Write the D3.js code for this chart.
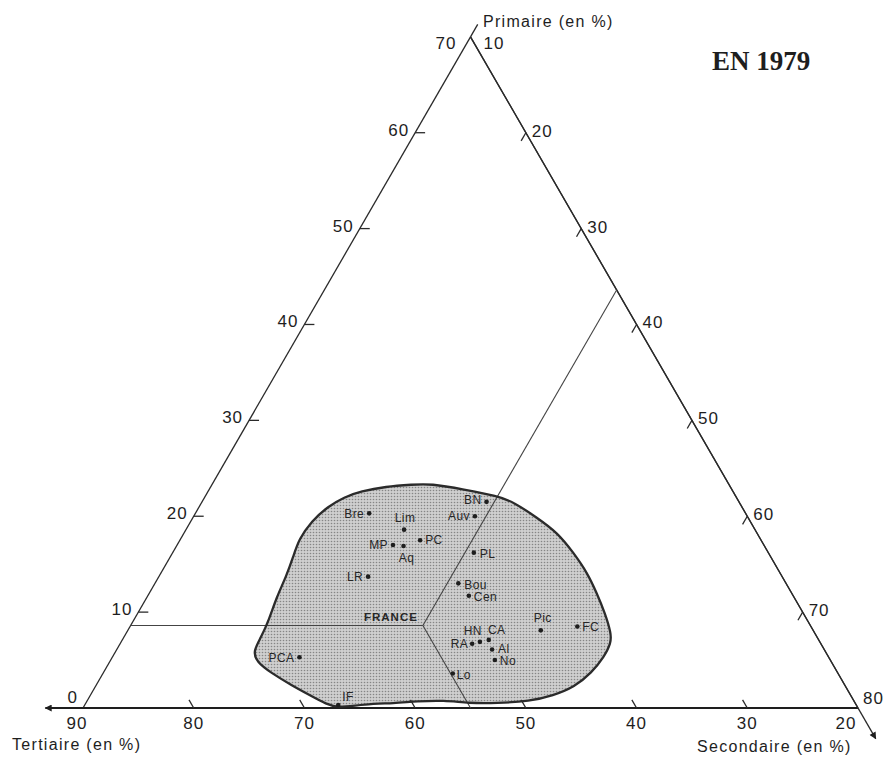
<!DOCTYPE html>
<html>
<head>
<meta charset="utf-8">
<script src="https://cdn.jsdelivr.net/npm/d3@7"></script>
<style>
  body { margin: 0; background: #fff; }
  text { font-family: "Liberation Sans", Arial, sans-serif; fill: #1e1e1e; }
</style>
</head>
<body>
<svg id="chart" width="886" height="757"></svg>
<script>
// Régions en 1979 : part du primaire et du secondaire (%), tertiaire = 100 - P - S
const regions    = ["Bre","Lim","MP","Aq","PC","LR","BN","Auv","PL","Bou","Cen","Pic","FC","HN","RA","CA","Al","No","Lo","PCA","IF"];
const primaire   = [20.3,18.6,17.0,16.9,17.5,13.7,21.5,20.0,16.2,13.0,11.7, 8.1, 8.5, 6.9, 6.7, 7.1, 6.1, 5.0, 3.6, 5.3, 0.3];
const secondaire = [25.7,29.7,29.5,30.5,31.7,28.9,35.7,35.4,37.2,37.4,39.0,47.3,50.4,42.4,41.8,43.1,43.9,44.7,41.6,26.9,32.9];

// moyenne France
const franceP = 8.6;
const franceS = 36.4;

// contour de la zone grisée (primaire, secondaire)
const outlineP = [23.4,22.8,22.1,21.5,19.9,18.3,16.2,14.1,12.0, 9.9, 7.8, 6.8, 5.3, 3.7, 2.2, 1.3, 0.7, 0.5, 0.5, 0.8, 0.7, 0.5, 0.4, 0.0, 0.4, 1.3, 2.4, 3.7, 4.8, 5.9, 7.4, 9.2,11.6,13.7,15.8,17.6,19.5,21.0,22.0,22.6,23.1,23.3];
const outlineS = [29.7,33.0,36.4,38.1,41.0,43.7,46.2,48.5,50.4,52.2,53.8,54.3,54.4,54.1,53.3,51.8,50.0,47.1,44.6,42.2,39.8,37.9,35.2,33.0,31.8,29.9,27.6,25.1,23.3,22.4,22.4,22.2,21.7,21.5,21.1,20.7,20.9,21.6,22.6,23.8,25.8,28.1];

// graduations
const primTicks = [0,10,20,30,40,50,60,70];
const secTicks  = [10,20,30,40,50,60,70,80];
const terTicks  = [90,80,70,60,50,40,30,20];

// ---- geometry
const svg = d3.select("#chart");
const x0 = 83, x1 = 858, yBase = 708;
const side = x1 - x0;
const h = side * Math.sqrt(3) / 2;

const pScale = d3.scaleLinear().domain([0, 70]).range([yBase, yBase - h]);
const tScale = d3.scaleLinear().domain([90, 20]).range([x0, x1]);

function pos(P, S) {
    const T = 100 - P - S;
    return [tScale(T + P / 2), pScale(P)];
}

// halftone pattern
const defs = svg.append("defs");
const pat = defs.append("pattern").attr("id", "trame")
    .attr("width", 3).attr("height", 3).attr("patternUnits", "userSpaceOnUse");
pat.append("rect").attr("width", 3).attr("height", 3).attr("fill", "#cfcfcf");
pat.append("circle").attr("cx", 1.5).attr("cy", 1.5).attr("r", 0.8).attr("fill", "#868686");

defs.append("marker").attr("id", "arrow")
    .attr("viewBox", "0 0 10 10").attr("refX", 9).attr("refY", 5)
    .attr("markerWidth", 9).attr("markerHeight", 7).attr("markerUnits", "userSpaceOnUse")
    .attr("orient", "auto")
  .append("path").attr("d", "M0,0 L10,5 L0,10 z").attr("fill", "#1e1e1e");

// ---- shaded zone
const outline = outlineP.map((p, i) => pos(p, outlineS[i]));
const blobLine = d3.line().curve(d3.curveBasisClosed);

svg.append("path").attr("d", blobLine(outline))
    .attr("fill", "url(#trame)").attr("stroke", "none");

// ---- triangle
const A = pos(70, 10), B = pos(0, 10), C = pos(0, 80);
svg.append("line").attr("x1", B[0]).attr("y1", B[1]).attr("x2", A[0]).attr("y2", A[1])
    .attr("stroke", "#2a2a2a").attr("stroke-width", 1.3);
svg.append("line").attr("x1", A[0]).attr("y1", A[1]).attr("x2", C[0]).attr("y2", C[1])
    .attr("stroke", "#2a2a2a").attr("stroke-width", 1.3);

// axis extensions with arrows
const topExt = pos(71.3, 10);
svg.append("line").attr("x1", A[0]).attr("y1", A[1]).attr("x2", topExt[0]).attr("y2", topExt[1])
    .attr("stroke", "#2a2a2a").attr("stroke-width", 1.3);

const leftEnd = pos(0, 6.6);
svg.append("line").attr("x1", C[0]).attr("y1", C[1]).attr("x2", leftEnd[0]).attr("y2", leftEnd[1])
    .attr("stroke", "#1e1e1e").attr("stroke-width", 2.2).attr("marker-end", "url(#arrow)");

const rightEnd = pos(-3.2, 83.2);
svg.append("line").attr("x1", A[0]).attr("y1", A[1]).attr("x2", rightEnd[0]).attr("y2", rightEnd[1])
    .attr("stroke", "#2a2a2a").attr("stroke-width", 1.3).attr("marker-end", "url(#arrow)");

// ---- France lines
const F = pos(franceP, franceS);
const fLeft = pos(franceP, 10);
const fRight = pos(100 - 20 - franceS, franceS);
const fBottom = pos(0, franceP + franceS);
[fLeft, fRight, fBottom].forEach(e => {
    svg.append("line").attr("x1", F[0]).attr("y1", F[1]).attr("x2", e[0]).attr("y2", e[1])
        .attr("stroke", "#444").attr("stroke-width", 1.1);
});

svg.append("path").attr("d", blobLine(outline))
    .attr("fill", "none").attr("stroke", "#2b2b2b").attr("stroke-width", 2.3);

// ---- ticks
const tickStyle = sel => sel.attr("stroke", "#2a2a2a").attr("stroke-width", 1.3);
const tickFont = sel => sel.style("font-size", "17px").style("letter-spacing", "1px");

// primaire (left side, S = 10)
primTicks.forEach(p => {
    const a = pos(p, 10);
    if (p > 0 && p < 70) {
        const b = pos(p, 10.9);
        svg.append("line").attr("x1", a[0]).attr("y1", a[1]).attr("x2", b[0]).attr("y2", b[1]).call(tickStyle);
    }
    let dx = -6, dy = -3;
    if (p == 0) { dx = -5; dy = -11; }
    if (p == 70) { dx = -14; dy = 6; }
    svg.append("text").attr("x", a[0] + dx).attr("y", a[1] + dy).attr("dy", "0.35em")
        .attr("text-anchor", "end").text(p).call(tickFont);
});

// secondaire (right side, T = 20)
secTicks.forEach(s => {
    const p = 80 - s;
    const a = pos(p, s);
    if (s > 10 && s < 80) {
        const b = pos(p - 0.85, s);
        svg.append("line").attr("x1", a[0]).attr("y1", a[1]).attr("x2", b[0]).attr("y2", b[1]).call(tickStyle);
    }
    let dx = 6, dy = -2;
    if (s == 10) { dx = 13; dy = 6; }
    if (s == 80) { dx = 5; dy = -10; }
    svg.append("text").attr("x", a[0] + dx).attr("y", a[1] + dy).attr("dy", "0.35em")
        .attr("text-anchor", "start").text(s).call(tickFont);
});

// tertiaire (bottom, P = 0)
terTicks.forEach(t => {
    const a = pos(0, 100 - t);
    if (t < 90 && t > 20) {
        const b = pos(0.85, 100 - t - 0.85);
        svg.append("line").attr("x1", a[0]).attr("y1", a[1]).attr("x2", b[0]).attr("y2", b[1]).call(tickStyle);
    }
    let dx = 0;
    if (t == 90) dx = -6;
    if (t == 20) dx = -12;
    svg.append("text").attr("x", a[0] + dx).attr("y", yBase + 15).attr("dy", "0.35em")
        .attr("text-anchor", "middle").text(t).call(tickFont);
});

// axis titles
const titleFont = sel => sel.style("font-size", "16px").style("letter-spacing", "1.3px");
svg.append("text").attr("x", 483).attr("y", 27).text("Primaire (en %)").call(titleFont);
svg.append("text").attr("x", 12).attr("y", 750).text("Tertiaire (en %)").call(titleFont);
svg.append("text").attr("x", 697).attr("y", 752).text("Secondaire (en %)").call(titleFont);

svg.append("text").attr("x", 712).attr("y", 70).text("EN 1979")
    .style("font-family", "'Liberation Serif', 'Times New Roman', serif")
    .style("font-weight", "bold").style("font-size", "27px");

// ---- regions
const place = {
    Bre: ["end", -5, 0],   Lim: ["middle", 1, -12], MP: ["end", -5, 0],  Aq: ["middle", 3, 12],
    PC: ["start", 5, 0],   LR: ["end", -5, 0],      BN: ["end", -5, -2], Auv: ["end", -5, 0],
    PL: ["start", 6, 1],   Bou: ["start", 6, 1],    Cen: ["start", 5, 1], Pic: ["middle", 2, -13],
    FC: ["start", 5, 0],   HN: ["end", 2, -11],     RA: ["end", -4, 0],  CA: ["middle", 8, -10],
    Al: ["start", 6, -1],  No: ["start", 5, 1],     Lo: ["start", 4, 1], PCA: ["end", -5, 1],
    IF: ["start", 4, -8]
};

const pts = regions.map((r, i) => ({ name: r, xy: pos(primaire[i], secondaire[i]) }));

svg.selectAll("circle.reg").data(pts).enter().append("circle").attr("class", "reg")
    .attr("cx", d => d.xy[0]).attr("cy", d => d.xy[1]).attr("r", 2.3).attr("fill", "#1e1e1e");

svg.selectAll("text.reg").data(pts).enter().append("text").attr("class", "reg")
    .attr("x", d => d.xy[0] + place[d.name][1])
    .attr("y", d => d.xy[1] + place[d.name][2])
    .attr("dy", "0.35em")
    .attr("text-anchor", d => place[d.name][0])
    .style("font-size", "12px").style("letter-spacing", "0.4px").style("fill", "#262626")
    .text(d => d.name);

svg.append("text").attr("x", F[0] - 5).attr("y", F[1] - 9).attr("dy", "0.35em")
    .attr("text-anchor", "end").style("font-size", "11.5px").style("font-weight", "bold")
    .style("letter-spacing", "1px").style("fill", "#262626").text("FRANCE");
</script>
</body>
</html>
